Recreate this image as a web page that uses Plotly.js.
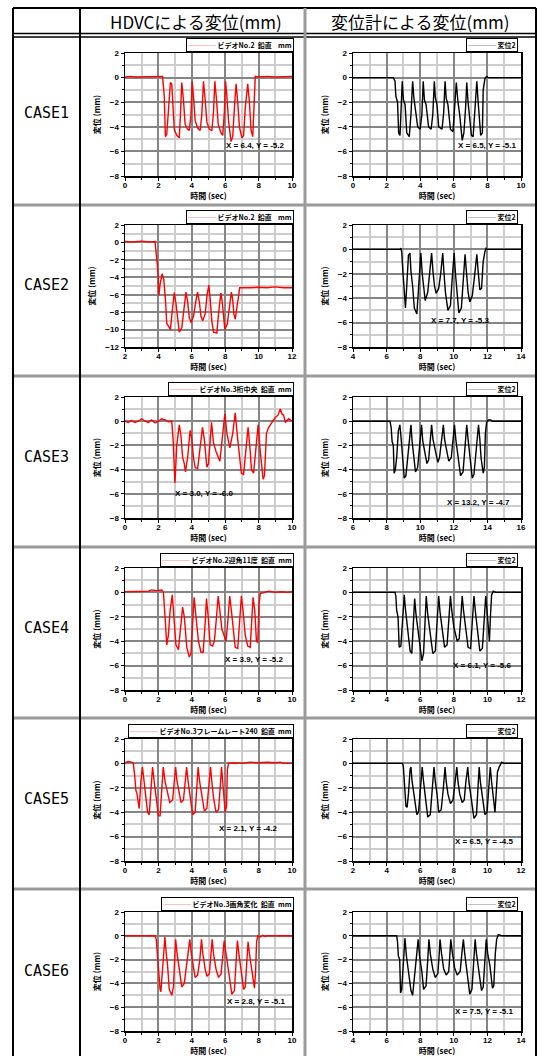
<!DOCTYPE html>
<html><head><meta charset="utf-8">
<script src="https://cdn.plot.ly/plotly-3.0.1.min.js"></script>
<style>html,body{margin:0;padding:0;background:#fff;}#chart{width:545px;height:1056px;}</style>
</head><body><div id="chart"></div>
<script>
// ---------- DATA ----------
const caseLabels = ['CASE1','CASE2','CASE3','CASE4','CASE5','CASE6'];
const headerLabels = ['HDVCによる変位(mm)','変位計による変位(mm)'];
const hdvcNames = ['ビデオNo.2\u00a0\u00a0鉛直\u00a0\u00a0\u00a0\u00a0mm','ビデオNo.2\u00a0\u00a0鉛直\u00a0\u00a0\u00a0\u00a0mm','ビデオNo.3桁中央\u00a0\u00a0鉛直\u00a0\u00a0mm','ビデオNo.2迎角11度\u00a0\u00a0鉛直\u00a0\u00a0mm','ビデオNo.3フレームレート240\u00a0\u00a0鉛直\u00a0\u00a0mm','ビデオNo.3画角変化\u00a0\u00a0鉛直\u00a0\u00a0mm'];
const gaugeName = '変位2';
const xTitle = '時間 (sec)';
const yTitle = '変位 (mm)';
const hdvcXRanges = [[0,10],[2,12],[0,10],[0,10],[0,10],[0,10]];
const gaugeXRanges = [[0,10],[4,14],[6,16],[2,12],[2,12],[4,14]];
const hdvcYRanges = [[-8,2],[-12,2],[-8,2],[-8,2],[-8,2],[-8,2]];
const gaugeYRanges = [[-8,2],[-8,2],[-8,2],[-8,2],[-8,2],[-8,2]];
const hdvcCursor = ['X = 6.4, Y = -5.2', null, 'X = 3.0, Y = -6.0', 'X = 3.9, Y = -5.2', 'X = 2.1, Y = -4.2', 'X = 2.8, Y = -5.1'];
const gaugeCursor = ['X = 6.5, Y = -5.1', 'X = 7.7, Y = -5.3', 'X = 13.2, Y = -4.7', 'X = 6.1, Y = -5.6', 'X = 6.5, Y = -4.5', 'X = 7.5, Y = -5.1'];

const case1Hdvc = [[0,0.05],[0.3,0.1],[0.6,0.05],[1,0.05],[1.5,0.08],[1.8,0.1],[2,0.05],[2.25,0.1],[2.35,-1.5],[2.42,-4.8],[2.5,-4.6],[2.6,-2.5],[2.72,-0.4],[2.8,-0.5],[2.88,-2.2],[2.95,-4.2],[3.1,-4.7],[3.25,-4.9],[3.32,-3],[3.4,-0.4],[3.5,-1.8],[3.6,-3.8],[3.75,-4.2],[3.85,-4.3],[3.95,-3],[4.02,-0.3],[4.1,-1.5],[4.2,-3.5],[4.35,-4.1],[4.5,-4.3],[4.6,-3],[4.7,-0.3],[4.8,-1.8],[4.9,-3.6],[5.05,-4.2],[5.2,-4.3],[5.3,-2.8],[5.38,-0.3],[5.48,-1.8],[5.58,-3.8],[5.75,-4.5],[5.85,-4.7],[5.95,-2.8],[6.02,-0.3],[6.1,-1.5],[6.2,-3.5],[6.35,-5.2],[6.45,-4.8],[6.55,-2.5],[6.65,-0.5],[6.75,-2],[6.85,-4],[7.0,-4.9],[7.1,-4.7],[7.2,-2.5],[7.35,-0.5],[7.45,-2],[7.55,-4.3],[7.65,-4.8],[7.72,-2],[7.8,0.1],[8,0.05],[8.5,0.1],[9,0.05],[9.5,0.1],[10,0.1]];
const case1Gauge = [[0,0],[2.4,0],[2.5,-0.3],[2.55,-1.5],[2.65,-2],[2.72,-4.5],[2.8,-4.7],[2.85,-3],[2.93,-0.3],[3.0,-1.8],[3.1,-2.2],[3.2,-4.5],[3.35,-4.8],[3.45,-3],[3.55,-0.3],[3.62,-1.6],[3.72,-2.5],[3.85,-4],[4.0,-4.2],[4.1,-3],[4.18,-0.3],[4.25,-1.8],[4.35,-2.2],[4.5,-4],[4.65,-4.2],[4.75,-3],[4.84,-0.3],[4.9,-1.6],[5.0,-2.2],[5.1,-4],[5.3,-4.2],[5.4,-2.8],[5.48,-0.3],[5.55,-1.7],[5.65,-2.2],[5.8,-4.2],[5.95,-4.4],[6.05,-2.5],[6.15,-0.4],[6.25,-2],[6.35,-3],[6.5,-5.1],[6.6,-4.5],[6.7,-2.5],[6.77,-0.4],[6.85,-2],[6.95,-3.5],[7.05,-4.7],[7.15,-4.8],[7.25,-2.5],[7.37,-0.3],[7.45,-2],[7.55,-3.5],[7.6,-4.7],[7.7,-4.5],[7.75,-1],[7.85,-0.1],[7.95,0.1],[8.05,0],[10,0]];
const case2Hdvc = [[2,0.1],[2.5,0.05],[3,0.15],[3.5,0.05],[3.8,0.1],[3.88,-1.5],[3.97,-3.3],[4.03,-6.1],[4.1,-4.8],[4.22,-3.6],[4.32,-4.2],[4.42,-6.5],[4.5,-9.3],[4.6,-9.6],[4.72,-10],[4.85,-7.5],[4.95,-5.75],[5.05,-7],[5.15,-9],[5.25,-10.3],[5.4,-9.8],[5.55,-7.2],[5.65,-5.7],[5.75,-6.8],[5.85,-8.6],[5.95,-9.2],[6.1,-8.5],[6.22,-7],[6.34,-5.7],[6.45,-6.8],[6.55,-8.5],[6.65,-9.0],[6.8,-8.2],[6.92,-6],[7.02,-4.9],[7.1,-6.5],[7.2,-9],[7.3,-10.3],[7.5,-10.4],[7.6,-8.2],[7.74,-5.8],[7.82,-6.8],[7.9,-9],[7.98,-10],[8.12,-9.4],[8.25,-7.5],[8.37,-5.7],[8.45,-6.6],[8.52,-8.2],[8.6,-8.8],[8.7,-7.2],[8.8,-6],[8.87,-5.2],[9.5,-5.2],[10,-5.15],[10.5,-5.2],[11,-5.1],[11.5,-5.2],[12,-5.2]];
const case2Gauge = [[4,0],[6.8,0],[6.85,0.1],[6.9,-0.2],[6.97,-1.8],[7.02,-3],[7.07,-4.6],[7.12,-4.8],[7.2,-3],[7.3,-0.5],[7.39,-0.3],[7.45,-1.8],[7.55,-3],[7.65,-4.8],[7.8,-5.3],[7.92,-3],[8.04,-0.3],[8.12,-2],[8.22,-3.5],[8.3,-4.2],[8.45,-3.5],[8.55,-2],[8.68,-0.3],[8.76,-1.8],[8.85,-3],[8.95,-3.6],[9.1,-3.2],[9.22,-2],[9.34,-0.3],[9.42,-2],[9.5,-3.5],[9.65,-5],[9.8,-4.6],[9.9,-2.5],[10.02,-0.3],[10.1,-2],[10.2,-3.5],[10.3,-5.2],[10.45,-4.8],[10.55,-2.5],[10.67,-0.4],[10.75,-1.8],[10.85,-3.5],[10.95,-4.3],[11.1,-3.8],[11.25,-2],[11.37,-0.4],[11.45,-1.8],[11.55,-3.3],[11.65,-3.2],[11.75,-1],[11.85,-0.2],[11.92,0.1],[12,0],[14,0]];
const case3Hdvc = [[0,0],[0.2,-0.1],[0.4,0.05],[0.6,-0.1],[0.8,0],[1.0,0.2],[1.2,0],[1.4,-0.1],[1.6,0.1],[1.8,-0.15],[2.0,0],[2.2,0.2],[2.4,0.1],[2.6,-0.05],[2.8,0],[2.88,-1.5],[2.99,-5.1],[3.1,-2],[3.25,-0.3],[3.35,-1.2],[3.45,-3],[3.55,-3.5],[3.62,-4.2],[3.75,-3],[3.9,-0.75],[4.0,-1.5],[4.1,-3],[4.2,-3.85],[4.35,-3.9],[4.5,-2],[4.64,-0.5],[4.75,-1.5],[4.9,-3.8],[5.0,-3.5],[5.18,-0.1],[5.3,-1.8],[5.45,-2.5],[5.68,-3.3],[5.85,-1],[5.98,0.6],[6.1,-1],[6.28,-2.2],[6.45,-1],[6.6,0.7],[6.75,-1.5],[6.97,-4.3],[7.1,-4.4],[7.25,-2],[7.37,-0.5],[7.5,-2.5],[7.57,-4],[7.7,-4.3],[7.85,-2],[7.97,-0.3],[8.1,-2.5],[8.27,-4.8],[8.35,-4.5],[8.47,-1],[8.6,-0.5],[8.75,-0.2],[8.86,0],[9.0,0.3],[9.16,0.5],[9.3,1.0],[9.4,0.6],[9.5,0.5],[9.6,-0.1],[9.8,0.2],[10,0]];
const case3Gauge = [[6,0],[8.2,0],[8.27,-0.5],[8.33,-1.7],[8.4,-2],[8.45,-4.3],[8.52,-4],[8.6,-3],[8.7,-0.8],[8.79,-0.3],[8.87,-1.5],[8.95,-3],[9.05,-4.7],[9.15,-4.5],[9.3,-2.5],[9.45,-0.3],[9.52,-1.7],[9.62,-3],[9.72,-4.2],[9.85,-3.8],[9.97,-1.8],[10.08,-0.3],[10.15,-1.6],[10.25,-2.5],[10.4,-3.5],[10.5,-3.2],[10.6,-1.8],[10.68,-0.3],[10.76,-1.5],[10.9,-2.5],[11.05,-3.4],[11.15,-3],[11.28,-1.5],[11.38,-0.3],[11.45,-1.5],[11.6,-2.6],[11.7,-3.3],[11.85,-3],[11.95,-1.5],[12.04,-0.3],[12.12,-1.5],[12.25,-3],[12.4,-4.5],[12.55,-4.2],[12.65,-2],[12.77,-0.3],[12.85,-1.5],[12.95,-3],[13.1,-4.7],[13.2,-4.4],[13.35,-2],[13.47,-0.3],[13.55,-1.5],[13.62,-3],[13.75,-4.3],[13.82,-3.8],[13.88,-1],[13.95,-0.1],[14.05,0.1],[14.2,0.1],[14.3,0],[16,0]];
const case4Hdvc = [[0,0.05],[0.5,0.05],[1.0,0.05],[1.4,0.1],[1.6,0.2],[1.9,0.15],[2.2,0.2],[2.3,0],[2.4,-2],[2.5,-4.3],[2.6,-3.5],[2.7,-1.5],[2.83,-0.2],[2.92,-2],[3.05,-4.3],[3.2,-4.7],[3.3,-3.5],[3.45,-1.2],[3.55,-2],[3.7,-4.5],[3.85,-5.3],[3.95,-5],[4.05,-2.5],[4.14,-0.4],[4.25,-2],[4.4,-4],[4.55,-4.9],[4.68,-4.9],[4.8,-2.5],[4.88,-0.5],[4.98,-2],[5.1,-4.3],[5.25,-4.4],[5.35,-4],[5.45,-2.5],[5.58,-0.3],[5.68,-1.5],[5.8,-3],[5.95,-3.6],[6.05,-4.0],[6.15,-2.5],[6.27,-0.3],[6.37,-1.5],[6.5,-3],[6.6,-4.5],[6.75,-4.6],[6.85,-2.5],[6.97,-0.3],[7.07,-1.5],[7.2,-3.5],[7.35,-4.4],[7.5,-4.5],[7.58,-2.5],[7.67,-0.4],[7.77,-1.5],[7.87,-4],[7.95,-4.1],[8.02,-1],[8.1,-0.1],[8.3,0],[8.6,0.1],[9,0],[9.4,0.05],[9.7,0],[10,0.05]];
const case4Gauge = [[2,0],[4.5,0],[4.55,-0.3],[4.6,-1.5],[4.68,-2],[4.75,-4.5],[4.85,-4.4],[4.95,-2],[5.05,-0.2],[5.13,-1.5],[5.25,-3],[5.4,-4.8],[5.5,-5.0],[5.6,-2.5],[5.67,-0.5],[5.75,-1.8],[5.9,-3.5],[6.1,-5.6],[6.2,-5.0],[6.28,-2.5],[6.36,-0.3],[6.45,-1.8],[6.6,-3.5],[6.75,-5.0],[6.9,-4.8],[7.0,-2.5],[7.1,-0.3],[7.18,-1.6],[7.3,-3],[7.45,-4.5],[7.6,-4.3],[7.7,-2],[7.8,-0.3],[7.88,-1.5],[8.0,-2.8],[8.2,-4.0],[8.32,-3.8],[8.42,-2],[8.5,-0.3],[8.58,-1.5],[8.7,-3],[8.85,-4.5],[9.0,-4.6],[9.1,-2.2],[9.2,-0.3],[9.28,-1.5],[9.4,-3],[9.55,-4.8],[9.7,-4.6],[9.8,-2.2],[9.9,-0.3],[9.98,-1.5],[10.05,-3],[10.12,-4.0],[10.18,-2],[10.25,-0.2],[10.35,0.1],[10.5,0],[12,0]];
const case5Hdvc = [[0,0.05],[0.2,0.15],[0.4,0.1],[0.5,0],[0.58,-1],[0.65,-2.2],[0.72,-2.5],[0.8,-3.5],[0.85,-3.7],[0.95,-1.5],[1.04,-0.3],[1.12,-1.2],[1.22,-2.5],[1.35,-4.0],[1.45,-4.2],[1.55,-2.5],[1.65,-0.3],[1.75,-1.5],[1.85,-2.8],[2.0,-4.3],[2.1,-4.3],[2.2,-2],[2.29,-0.3],[2.4,-1.5],[2.55,-2.5],[2.68,-3.2],[2.85,-3.0],[2.95,-1.5],[3.03,-0.3],[3.12,-1.5],[3.25,-2.5],[3.35,-3.2],[3.5,-3.0],[3.6,-1.5],[3.69,-0.3],[3.78,-1.5],[3.9,-2.8],[4.05,-4.2],[4.2,-4.0],[4.3,-2],[4.38,-0.3],[4.47,-1.5],[4.6,-2.8],[4.75,-3.9],[4.9,-3.7],[5.0,-2],[5.12,-0.3],[5.2,-1.5],[5.3,-2.8],[5.45,-4.0],[5.6,-3.8],[5.7,-2],[5.78,-0.3],[5.85,-1.5],[5.92,-3],[6.0,-4.0],[6.08,-3.5],[6.13,-0.5],[6.2,0],[6.5,0.05],[7,0],[7.5,0.1],[8,0.05],[8.5,0.1],[9,0.05],[9.3,0.1],[9.5,0],[10,0]];
const case5Gauge = [[2,0],[4.95,0],[5.0,-0.3],[5.05,-1.5],[5.1,-2],[5.15,-3.5],[5.22,-3.6],[5.3,-2.5],[5.4,-0.5],[5.45,-0.3],[5.52,-1.5],[5.62,-2.5],[5.8,-4.2],[5.9,-4.0],[6.02,-2],[6.12,-0.3],[6.2,-1.5],[6.3,-2.5],[6.45,-4.4],[6.6,-4.2],[6.72,-2],[6.82,-0.3],[6.9,-1.5],[7.0,-2.5],[7.1,-4.0],[7.25,-3.8],[7.38,-2],[7.48,-0.3],[7.55,-1.5],[7.65,-2.5],[7.8,-3.3],[7.95,-3.0],[8.08,-1.5],[8.18,-0.3],[8.25,-1.5],[8.35,-2.5],[8.5,-3.2],[8.62,-3.0],[8.72,-1.5],[8.83,-0.3],[8.9,-1.5],[9.0,-2.5],[9.2,-4.5],[9.35,-4.2],[9.42,-2],[9.51,-0.3],[9.58,-1.5],[9.7,-2.7],[9.85,-4.2],[9.98,-4.0],[10.08,-2],[10.17,-0.3],[10.25,-1.5],[10.35,-3],[10.45,-4.0],[10.52,-2.5],[10.6,-0.7],[10.7,-0.3],[10.85,0.1],[11,0],[12,0]];
const case6Hdvc = [[0,0],[1.8,0],[1.87,-0.3],[1.93,-1.5],[2.0,-2.5],[2.1,-4.5],[2.15,-4.7],[2.22,-3.5],[2.3,-1.5],[2.39,-0.1],[2.47,-1.5],[2.55,-2.5],[2.65,-4.5],[2.8,-5.0],[2.9,-4.3],[2.97,-2],[3.03,-0.3],[3.12,-1.5],[3.25,-3],[3.4,-4.3],[3.55,-4.0],[3.7,-2.2],[3.88,-0.3],[3.97,-1.5],[4.1,-2.5],[4.2,-3.5],[4.35,-3.3],[4.48,-2],[4.58,-0.3],[4.66,-1.5],[4.8,-2.8],[4.9,-3.4],[5.05,-3.2],[5.15,-1.8],[5.22,-0.3],[5.3,-1.5],[5.45,-2.8],[5.6,-3.5],[5.75,-3.2],[5.85,-1.8],[5.94,-0.4],[6.05,-1.5],[6.2,-3],[6.4,-4.9],[6.55,-4.6],[6.65,-2],[6.73,-0.4],[6.82,-1.5],[6.95,-3],[7.1,-4.5],[7.2,-4.3],[7.3,-2],[7.37,-0.5],[7.45,-1.5],[7.6,-3],[7.75,-4.4],[7.82,-3],[7.88,-0.5],[7.95,0],[8.1,-0.1],[8.25,0.05],[8.4,-0.05],[8.5,0],[10,0]];
const case6Gauge = [[4,0],[6.6,0],[6.65,-0.5],[6.7,-1.7],[6.78,-2],[6.83,-4.8],[6.9,-4.5],[7.0,-2],[7.09,-0.2],[7.18,-1.7],[7.3,-3],[7.45,-4.6],[7.55,-5.0],[7.7,-3],[7.88,-0.3],[7.96,-1.7],[8.1,-3],[8.2,-4.5],[8.35,-4.2],[8.45,-2],[8.52,-0.3],[8.6,-1.5],[8.75,-2.8],[8.9,-3.5],[9.05,-3.2],[9.12,-1.8],[9.18,-0.3],[9.27,-1.5],[9.4,-2.8],[9.55,-3.3],[9.7,-3.0],[9.77,-1.5],[9.82,-0.3],[9.92,-1.5],[10.05,-2.7],[10.2,-3.3],[10.38,-3.0],[10.48,-1.5],[10.57,-0.3],[10.65,-1.5],[10.8,-3],[10.95,-4.9],[11.08,-4.5],[11.18,-2],[11.27,-0.3],[11.35,-1.5],[11.5,-3],[11.65,-4.6],[11.75,-4.3],[11.85,-2],[11.93,-0.3],[12.02,-1.5],[12.15,-2.5],[12.3,-4.4],[12.38,-4.2],[12.47,-1.5],[12.55,-0.3],[12.65,0.1],[12.8,0.05],[12.9,0],[14,0]];

const hdvcSeries = [case1Hdvc, case2Hdvc, case3Hdvc, case4Hdvc, case5Hdvc, case6Hdvc];
const gaugeSeries = [case1Gauge, case2Gauge, case3Gauge, case4Gauge, case5Gauge, case6Gauge];

// ---------- LAYOUT GEOMETRY ----------
const W = 545, H = 1056;
const px = v => v / W;
const py = v => 1 - v / H;
const colLeft = [125, 292], colRight = [353, 521];
const rowTop = [53, 225, 397, 568, 739, 912];
const rowBot = [176, 347, 518, 690, 861, 1031];
const hdvcCursorPos = [[9.7,-5.5,'right'],null,[2.9,-6.0,'left'],[9.66,-5.5,'right'],[9.26,-5.3,'right'],[9.76,-5.5,'right']];
const gaugeCursorPos = [[9.86,-5.5,'right'],[12.3,-5.8,'right'],[15.46,-6.7,'right'],[11.6,-6.0,'right'],[11.7,-6.4,'right'],[13.7,-6.4,'right']];

const tickFont = {family:'Liberation Sans, Arial, sans-serif', size:8, color:'#000', weight:700};
const cjkBold = {family:'Noto Sans CJK JP, sans-serif', size:8, color:'#000', weight:700};

function axisBase(range){
  return {
    range: range, autorange:false, dtick:2, tick0:0,
    showgrid:true, gridcolor:'#858585', gridwidth:2,
    minor:{dtick:1, tick0:0, showgrid:true, gridcolor:'#cdcdcd', gridwidth:2, ticks:'outside', ticklen:2, tickcolor:'#000', tickwidth:1},
    zeroline:false, showline:true, linecolor:'#000', linewidth:1.5, mirror:true,
    ticks:'outside', ticklen:3, tickwidth:1, tickcolor:'#000',
    tickfont: tickFont, fixedrange:true
  };
}

const traces = [];
const layout = {
  width:W, height:H, autosize:false,
  margin:{l:0,r:0,t:0,b:0,pad:0},
  paper_bgcolor:'#fff', plot_bgcolor:'#fff',
  showlegend:false, shapes:[], annotations:[]
};

for (let i = 0; i < 6; i++) {
  for (let j = 0; j < 2; j++) {
    const k = i*2 + j + 1;
    const xs = k === 1 ? '' : String(k);
    const isH = j === 0;
    const data = isH ? hdvcSeries[i] : gaugeSeries[i];
    const col = isH ? colLeft : colRight;
    const color = isH ? '#ff0000' : '#000000';
    traces.push({
      x: data.map(p => p[0]), y: data.map(p => p[1]),
      xaxis:'x'+xs, yaxis:'y'+xs, type:'scatter', mode:'lines',
      line:{color:color, width:1.4}, name: isH ? hdvcNames[i] : gaugeName,
      showlegend:false, hoverinfo:'skip'
    });
    const xa = axisBase(isH ? hdvcXRanges[i] : gaugeXRanges[i]);
    xa.domain = [px(col[0]), px(col[1])];
    xa.anchor = 'y'+xs;
    xa.ticklabelstandoff = -2;
    xa.title = {text:xTitle, font:cjkBold, standoff:2};
    const ya = axisBase(isH ? hdvcYRanges[i] : gaugeYRanges[i]);
    ya.domain = [py(rowBot[i]), py(rowTop[i])];
    ya.anchor = 'x'+xs;
    ya.title = {text:yTitle, font:cjkBold, standoff:8};
    layout['xaxis'+xs] = xa;
    layout['yaxis'+xs] = ya;

    const legText = '<span style="color:'+color+'">────</span>\u00a0' + (isH ? hdvcNames[i] : gaugeName);
    layout.annotations.push({
      xref:'paper', yref:'paper', x: px(isH ? 294 : 518), y: py(rowTop[i]-1),
      xanchor:'right', yanchor:'bottom', showarrow:false, text: legText,
      font:{family:'Noto Sans CJK JP, sans-serif', size:7, color:'#000', weight:700},
      bordercolor:'#000', borderwidth:1, borderpad:1, bgcolor:'#fff', align:'left'
    });
    const cur = isH ? hdvcCursor[i] : gaugeCursor[i];
    const pos = isH ? hdvcCursorPos[i] : gaugeCursorPos[i];
    if (cur && pos) {
      layout.annotations.push({
        xref:'x'+xs, yref:'y'+xs, x:pos[0], y:pos[1], xanchor:pos[2], yanchor:'middle',
        showarrow:false, text:cur, font:tickFont
      });
    }
  }
  layout.annotations.push({
    xref:'paper', yref:'paper', x:px(46), y:py((rowTop[i]+rowBot[i])/2 - 1),
    xanchor:'center', yanchor:'middle', showarrow:false, text:caseLabels[i],
    font:{family:'DejaVu Sans Mono, monospace', size:15, color:'#000', weight:400}
  });
}
layout.annotations.push({xref:'paper', yref:'paper', x:px(196), y:py(21), xanchor:'center', yanchor:'middle', showarrow:false, text:headerLabels[0], font:{family:'Noto Sans CJK JP, sans-serif', size:17, color:'#000'}});
layout.annotations.push({xref:'paper', yref:'paper', x:px(420), y:py(21), xanchor:'center', yanchor:'middle', showarrow:false, text:headerLabels[1], font:{family:'Noto Sans CJK JP, sans-serif', size:17, color:'#000'}});

function hline(y, x0, x1, color, w){ layout.shapes.push({type:'line', xref:'paper', yref:'paper', x0:px(x0), x1:px(x1), y0:py(y), y1:py(y), line:{color:color, width:w}}); }
function vline(x, y0, y1, color, w){ layout.shapes.push({type:'line', xref:'paper', yref:'paper', x0:px(x), x1:px(x), y0:py(y0), y1:py(y1), line:{color:color, width:w}}); }
const L = 13, R = 536, T = 8, B = 1060;
hline(T, L, R, '#000', 2);
hline(33.5, L, R, '#000', 1.5);
hline(37, L, R, '#000', 1.5);
[205, 376, 547, 718, 889].forEach(y => hline(y, L, R, '#9a9a9a', 3));
vline(L, T, B, '#000', 2);
vline(R, T, B, '#000', 2);
vline(80, T, B, '#000', 2);
vline(305, T, B, '#9a9a9a', 3);

Plotly.newPlot('chart', traces, layout, {displayModeBar:false, staticPlot:true});
</script>
</body></html>
